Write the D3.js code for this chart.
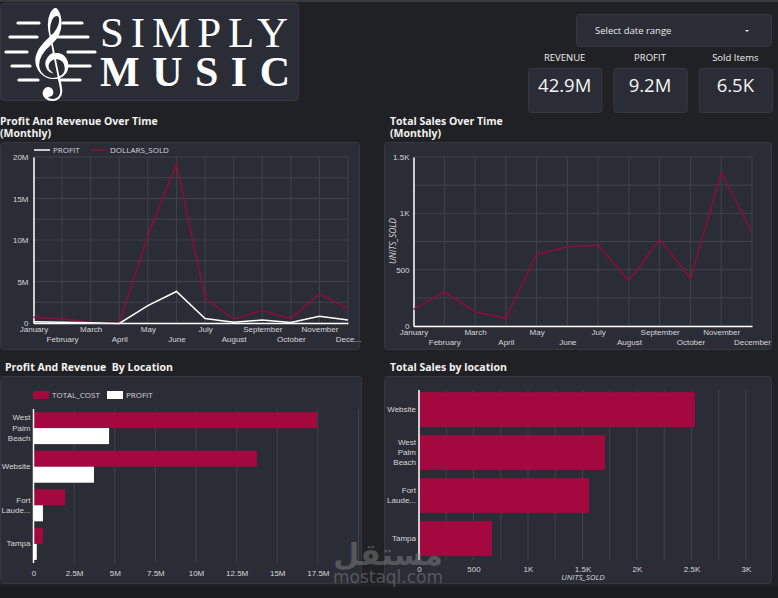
<!DOCTYPE html>
<html>
<head>
<meta charset="utf-8">
<style>
  body { margin: 0; background: #202125; }
  svg { display: block; font-family: "Open Sans", sans-serif; }
  .tick text { fill: #d6d6d6; font-size: 8px; }
  .title { fill: #f2f2f2; font-size: 10.5px; font-weight: 700; white-space: pre; }
</style>
</head>
<body>
<svg id="dash" width="778" height="598"></svg>
<script src="https://cdn.jsdelivr.net/npm/d3@7"></script>
<script>
const months = ["January", "February", "March", "April", "May", "June", "July",
  "August", "September", "October", "November", "December"];
const dollarsSold = [0.7e6, 0.5e6, 0.05e6, 0, 10.5e6, 19.2e6, 3.0e6, 0.45e6, 1.5e6, 0.5e6, 3.5e6, 1.7e6];
const profitMonthly = [0.15e6, 0.1e6, 0.02e6, -0.05e6, 2.1e6, 3.8e6, 0.55e6, 0.1e6, 0.35e6, 0.05e6, 0.8e6, 0.35e6];
const unitsMonthly = [148, 304, 127, 68, 635, 703, 717, 402, 771, 422, 1358, 830];

const costLocations = ["West Palm Beach", "Website", "Fort Lauderdale", "Tampa"];
const totalCost = [17.45e6, 13.75e6, 1.94e6, 0.58e6];
const profitByLoc = [4.65e6, 3.72e6, 0.58e6, 0.2e6];

const salesLocations = ["Website", "West Palm Beach", "Fort Lauderdale", "Tampa"];
const unitsByLoc = [2530, 1706, 1560, 670];

const kpiLabels = ["REVENUE", "PROFIT", "Sold Items"];
const kpiValues = ["42.9M", "9.2M", "6.5K"];

const RED = "#a3093f";
const LINE_RED = "#900b3c";
const PANEL = "#2b2d36";
const GRID = "#41434b";

const svg = d3.select("#dash");

const fmtM = v => v === 0 ? "0" : d3.format("~g")(v / 1e6) + "M";
const fmtK = v => v === 0 ? "0" : (v >= 1000 ? d3.format("~g")(v / 1000) + "K" : v);

function panel(x, y, w, h) {
  svg.append("rect").attr("x", x + 0.5).attr("y", y + 0.5).attr("width", w).attr("height", h)
    .attr("rx", 3).attr("fill", PANEL).attr("stroke", "#363841");
}

// top strip and bottom band
svg.append("rect").attr("x", 0).attr("y", 0).attr("width", 778).attr("height", 2).attr("fill", "#38393c");
svg.append("rect").attr("x", 0).attr("y", 586).attr("width", 778).attr("height", 12).attr("fill", "#1b1c1f");

// ---------- logo ----------
panel(0, 3, 298, 97);
const staff = [
  { y: 23, l: [18, 39], r: [63, 82] },
  { y: 37, l: [10, 37], r: [55, 88] },
  { y: 52, l: [6, 27], r: [68, 95] },
  { y: 66, l: [12, 30], r: [67, 90] },
  { y: 80, l: [19, 38], r: [60, 80] }
];
const logo = svg.append("g");
staff.forEach(s => {
  [s.l, s.r].forEach(seg => {
    logo.append("line").attr("x1", seg[0]).attr("x2", seg[1]).attr("y1", s.y).attr("y2", s.y)
      .attr("stroke", "#fff").attr("stroke-width", 3.2).attr("stroke-linecap", "round");
  });
});
logo.append("text").attr("x", 49).attr("y", 78).attr("text-anchor", "middle")
  .attr("font-family", "DejaVu Sans").attr("font-size", 78).attr("fill", "#fff").text("𝄞");
logo.append("text").attr("x", 100).attr("y", 47).attr("font-family", "Liberation Serif, DejaVu Serif, serif")
  .attr("font-size", 43).attr("fill", "#fff").attr("textLength", 188).attr("lengthAdjust", "spacing").text("SIMPLY");
logo.append("text").attr("x", 100).attr("y", 86).attr("font-family", "Liberation Serif, DejaVu Serif, serif")
  .attr("font-weight", 700).attr("font-size", 42).attr("fill", "#fff").attr("textLength", 190).attr("lengthAdjust", "spacing").text("MUSIC");

// ---------- date range + KPIs ----------
svg.append("rect").attr("x", 576.5).attr("y", 14.5).attr("width", 195).attr("height", 32).attr("rx", 3)
  .attr("fill", PANEL).attr("stroke", "#363841");
svg.append("text").attr("x", 595).attr("y", 34).attr("fill", "#e8e8e8").attr("font-size", 9.5).text("Select date range");
svg.append("path").attr("d", "M745,30 h4 l-2,2 z").attr("fill", "#e8e8e8");

const kpiX = d3.scaleBand().domain(kpiLabels).range([528, 772]).paddingInner(0.14);
kpiLabels.forEach((k, i) => {
  const x0 = kpiX(k), w = kpiX.bandwidth();
  svg.append("text").attr("x", x0 + w / 2).attr("y", 61).attr("text-anchor", "middle")
    .attr("fill", "#eeeeee").attr("font-size", 9.5).text(k);
  svg.append("rect").attr("x", x0 + 0.5).attr("y", 68.5).attr("width", w).attr("height", 44).attr("rx", 3)
    .attr("fill", PANEL).attr("stroke", "#363841");
  svg.append("text").attr("x", x0 + w / 2).attr("y", 92).attr("text-anchor", "middle")
    .attr("fill", "#f4f4f4").attr("font-size", 18.5).text(kpiValues[i]);
});

// ---------- helpers ----------
function titles(x, y, lines) {
  lines.forEach((t, i) => svg.append("text").attr("class", "title").attr("x", x).attr("y", y + i * 12).text(t));
}

function gridLines(g, xs, ys, x0, x1, y0, y1) {
  g.selectAll(null).data(ys).join("line").attr("x1", x0).attr("x2", x1)
    .attr("y1", d => d).attr("y2", d => d).attr("stroke", GRID);
  g.selectAll(null).data(xs).join("line").attr("y1", y0).attr("y2", y1)
    .attr("x1", d => d).attr("x2", d => d).attr("stroke", GRID);
}

function monthAxis(g, x, yPos, truncateLast) {
  const last = x.domain()[x.domain().length - 1];
  const ax = g.append("g").attr("transform", `translate(0,${yPos})`)
    .call(d3.axisBottom(x).tickSize(0).tickFormat(m => truncateLast && m === last ? m.slice(0, 4) + "..." : m));
  ax.select(".domain").attr("stroke", "#fff").attr("stroke-width", 1.5);
  ax.selectAll(".tick text").attr("dy", (d, i) => i % 2 ? "2.05em" : "0.75em");
  return ax;
}

function wrapLabel(sel) {
  sel.each(function (d) {
    const t = d3.select(this);
    const words = d.split(" ").map(w => w.length > 8 ? w.slice(0, 5) + "..." : w);
    t.text(null);
    const n = words.length;
    words.forEach((w, i) => {
      t.append("tspan").attr("x", -3).attr("dy", i === 0 ? `${0.32 - (n - 1) * 0.65}em` : "1.3em").text(w);
    });
  });
}

// ---------- chart 1: profit & revenue over time ----------
titles(0, 125, ["Profit And Revenue Over Time", "(Monthly)"]);
panel(0, 142, 359, 207);
{
  const x = d3.scalePoint().domain(months).range([33.5, 348]);
  const y = d3.scaleLinear().domain([0, 20e6]).range([323, 157]);
  const g = svg.append("g");
  gridLines(g, months.map(m => x(m)), d3.range(0, 20e6 + 1, 2.5e6).map(y), 33.5, 348, 157, 323);

  const yAx = g.append("g").attr("transform", "translate(33.5,0)")
    .call(d3.axisLeft(y).tickValues(d3.range(0, 20e6 + 1, 5e6)).tickSize(0).tickPadding(5).tickFormat(fmtM));
  yAx.select(".domain").attr("stroke", "#fff").attr("stroke-width", 1.5);
  monthAxis(g, x, 323, true);

  const line = vals => d3.line().x((d, i) => x(months[i])).y(d => y(d))(vals);
  g.append("path").attr("d", line(dollarsSold)).attr("fill", "none").attr("stroke", LINE_RED).attr("stroke-width", 1.5);
  g.append("path").attr("d", line(profitMonthly)).attr("fill", "none").attr("stroke", "#fff").attr("stroke-width", 1.5);

  const leg = [{ k: "PROFIT", c: "#fff", x: 34 }, { k: "DOLLARS_SOLD", c: LINE_RED, x: 91 }];
  leg.forEach(l => {
    g.append("line").attr("x1", l.x).attr("x2", l.x + 16).attr("y1", 150).attr("y2", 150).attr("stroke", l.c).attr("stroke-width", 1.5);
    g.append("text").attr("x", l.x + 19).attr("y", 153).attr("fill", "#d6d6d6").attr("font-size", 8).text(l.k);
  });
}

// ---------- chart 2: total sales over time ----------
titles(390, 125, ["Total Sales Over Time", "(Monthly)"]);
panel(384, 142, 387, 207);
{
  const x = d3.scalePoint().domain(months).range([413.5, 752]);
  const y = d3.scaleLinear().domain([0, 1500]).range([326, 157]);
  const g = svg.append("g");
  gridLines(g, months.map(m => x(m)), d3.range(0, 1501, 250).map(y), 413.5, 752, 157, 326);

  const yAx = g.append("g").attr("transform", "translate(413.5,0)")
    .call(d3.axisLeft(y).tickValues([0, 500, 1000, 1500]).tickSize(0).tickPadding(4).tickFormat(fmtK));
  yAx.select(".domain").attr("stroke", "#fff").attr("stroke-width", 1.5);
  monthAxis(g, x, 326, false);

  g.append("path").attr("d", d3.line().x((d, i) => x(months[i])).y(d => y(d))(unitsMonthly))
    .attr("fill", "none").attr("stroke", LINE_RED).attr("stroke-width", 1.5);

  g.append("text").attr("transform", "translate(396,241) rotate(-90)").attr("text-anchor", "middle")
    .attr("fill", "#d6d6d6").attr("font-size", 8.5).attr("font-style", "italic").text("UNITS_SOLD");
}

// ---------- chart 3: profit & revenue by location ----------
titles(5, 371, ["Profit And Revenue  By Location"]);
panel(0, 376, 361, 207);
{
  const x = d3.scaleLinear().domain([0, 20e6]).range([33.5, 358.5]);
  const y = d3.scaleBand().domain(costLocations).range([409, 563]).paddingInner(0.17).paddingOuter(0.08);
  const sub = d3.scaleBand().domain(["TOTAL_COST", "PROFIT"]).range([0, y.bandwidth()]);
  const g = svg.append("g");
  gridLines(g, d3.range(0, 20e6 + 1, 2.5e6).map(x), [], 0, 0, 409, 563);

  const rows = costLocations.map((loc, i) => ({ loc, TOTAL_COST: totalCost[i], PROFIT: profitByLoc[i] }));
  const colors = { TOTAL_COST: RED, PROFIT: "#ffffff" };
  rows.forEach(r => {
    ["TOTAL_COST", "PROFIT"].forEach(k => {
      g.append("rect").attr("x", x(0)).attr("y", y(r.loc) + sub(k))
        .attr("width", x(r[k]) - x(0)).attr("height", sub.bandwidth()).attr("fill", colors[k]);
    });
  });

  const xAx = g.append("g").attr("transform", "translate(0,565)")
    .call(d3.axisBottom(x).tickValues(d3.range(0, 17.5e6 + 1, 2.5e6)).tickSize(0).tickPadding(5).tickFormat(fmtM));
  xAx.select(".domain").remove();
  const yAx = g.append("g").attr("transform", "translate(33.5,0)").call(d3.axisLeft(y).tickSize(0).tickPadding(3));
  yAx.select(".domain").attr("stroke", "#fff").attr("stroke-width", 1.5).attr("d", "M0,409V563");
  yAx.selectAll(".tick text").call(wrapLabel);

  const leg = [{ k: "TOTAL_COST", x: 33 }, { k: "PROFIT", x: 107 }];
  leg.forEach(l => {
    g.append("rect").attr("x", l.x).attr("y", 391).attr("width", 16).attr("height", 8).attr("fill", colors[l.k]);
    g.append("text").attr("x", l.x + 19).attr("y", 398).attr("fill", "#d6d6d6").attr("font-size", 8).text(l.k);
  });
}

// ---------- chart 4: total sales by location ----------
titles(390, 371, ["Total Sales by location"]);
panel(384, 376, 387, 207);
{
  const x = d3.scaleLinear().domain([0, 3000]).range([419, 746]);
  const y = d3.scaleBand().domain(salesLocations).range([390, 558]).paddingInner(0.19).paddingOuter(0.05);
  const g = svg.append("g");
  gridLines(g, d3.range(0, 3001, 250).map(x), [], 0, 0, 390, 560);

  g.selectAll(null).data(salesLocations).join("rect")
    .attr("x", x(0)).attr("y", d => y(d)).attr("width", (d, i) => x(unitsByLoc[i]) - x(0))
    .attr("height", y.bandwidth()).attr("fill", RED);

  const xAx = g.append("g").attr("transform", "translate(0,561)")
    .call(d3.axisBottom(x).tickValues(d3.range(0, 3001, 500)).tickSize(0).tickPadding(5).tickFormat(fmtK));
  xAx.select(".domain").remove();
  const yAx = g.append("g").attr("transform", "translate(419,0)").call(d3.axisLeft(y).tickSize(0).tickPadding(3));
  yAx.select(".domain").attr("stroke", "#fff").attr("stroke-width", 1.5).attr("d", "M0,390V560");
  yAx.selectAll(".tick text").call(wrapLabel);

  g.append("text").attr("x", 583).attr("y", 580).attr("text-anchor", "middle").attr("fill", "#d6d6d6")
    .attr("font-size", 8).attr("font-style", "italic").text("UNITS_SOLD");
}

// watermark
svg.append("text").attr("x", 388).attr("y", 565).attr("text-anchor", "middle").attr("fill", "#8a8a8a")
  .attr("opacity", 0.45).attr("font-size", 30).attr("font-weight", 700).attr("font-family", "DejaVu Sans").text("مستقل");
svg.append("text").attr("x", 388).attr("y", 583).attr("text-anchor", "middle").attr("fill", "#8a8a8a")
  .attr("opacity", 0.45).attr("font-size", 17).attr("font-family", "DejaVu Sans").text("mostaql.com");
</script>
</body>
</html>
